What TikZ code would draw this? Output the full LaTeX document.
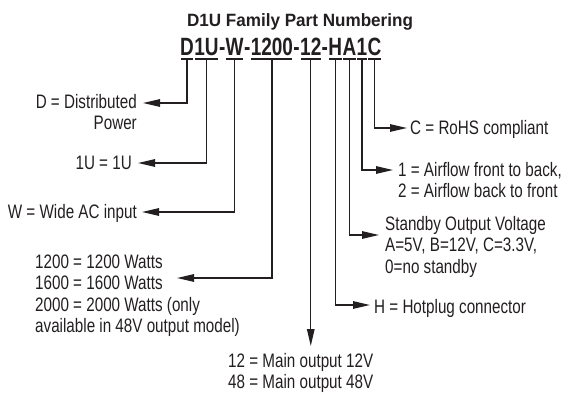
\documentclass[tikz,border=0pt]{standalone}
\usepackage{fontspec}
\setmainfont{Liberation Sans}[FakeStretch=0.78]
\newfontfamily\pnfont{Liberation Sans}[FakeStretch=0.76]
\newfontfamily\ttlfont{Liberation Sans}[FakeStretch=0.96]
\usetikzlibrary{arrows.meta}
\definecolor{ink}{RGB}{35,31,32}
\begin{document}
\begin{tikzpicture}[x=1pt,y=-1pt,
  lbl/.style={inner sep=0pt,text=ink,font=\fontsize{19.5}{21.5}\selectfont},
  pn/.style={inner sep=0pt,text=ink,font=\pnfont\bfseries\fontsize{25}{28}\selectfont,anchor=base west},
  brk/.style={draw=ink,line width=1.3pt},
  conn/.style={draw=ink,line width=1.3pt,line join=miter,-{Triangle[length=17pt,width=7.5pt]}}]
\useasboundingbox (0,0) rectangle (573,402);
% title
\node[inner sep=0pt,text=ink,font=\ttlfont\bfseries\fontsize{17.8}{20}\selectfont,anchor=base] (title) at (300,26) {D1U Family Part Numbering};
% part number
\node[pn] (pD) at (180,55) {D};
\node[pn] (p1U) at (pD.base east) {1U};
\node[pn] (d1) at (p1U.base east) {-};
\node[pn] (pW) at (d1.base east) {W};
\node[pn] (d2) at (pW.base east) {-};
\node[pn] (p1200) at (d2.base east) {1200};
\node[pn] (d3) at (p1200.base east) {-};
\node[pn] (p12) at (d3.base east) {12};
\node[pn] (d4) at (p12.base east) {-};
\node[pn] (pH) at (d4.base east) {H};
\node[pn] (pA) at (pH.base east) {A};
\node[pn] (p1) at (pA.base east) {1};
\node[pn] (pC) at (p1.base east) {C};
% brackets
\foreach \n in {pD,p1U,pW,p1200,p12,pH,pA,p1,pC}{
  \draw[brk] ([xshift=0.8pt]\n.south west |- 0,59) -- ([xshift=-0.8pt]\n.south east |- 0,59);
}
% labels
\node[lbl,anchor=base east] (lD) at (137,108) {\begin{tabular}[t]{@{}r@{}}D = Distributed\\Power\end{tabular}};
\node[lbl,anchor=base east] (l1U) at (132,169) {1U = 1U};
\node[lbl,anchor=base east] (lW) at (137,218) {W = Wide AC input};
\node[lbl,anchor=base west] (l1200) at (35,268) {\begin{tabular}[t]{@{}l@{}}1200 = 1200 Watts\\1600 = 1600 Watts\\2000 = 2000 Watts (only\\available in 48V output model)\end{tabular}};
\node[lbl,anchor=base west] (l12) at (228,367) {\begin{tabular}[t]{@{}l@{}}12 = Main output 12V\\48 = Main output 48V\end{tabular}};
\node[lbl,anchor=base west] (lH) at (374,313) {H = Hotplug connector};
\node[lbl,anchor=base west] (lA) at (385,230) {\begin{tabular}[t]{@{}l@{}}Standby Output Voltage\\A=5V, B=12V, C=3.3V,\\0=no standby\end{tabular}};
\node[lbl,anchor=base west] (l1) at (398,176) {\begin{tabular}[t]{@{}l@{}}1 = Airflow front to back,\\2 = Airflow back to front\end{tabular}};
\node[lbl,anchor=base west] (lC) at (410,134) {C = RoHS compliant};
% arrow tips
\coordinate (tD) at (143,103);
\coordinate (t1U) at (138,163);
\coordinate (tW) at (142,212);
\coordinate (t1200) at (177,278);
\coordinate (t12) at (308,346);
\coordinate (tH) at (370,305);
\coordinate (tA) at (379,235);
\coordinate (t1) at (393,170);
\coordinate (tC) at (407,128);
% connectors
\draw[conn] (pD.south |- 0,59) |- (tD);
\draw[conn] (p1U.south |- 0,59) |- (t1U);
\draw[conn] (pW.south |- 0,59) |- (tW);
\draw[conn] (p1200.south |- 0,59) |- (t1200);
\draw[conn] (p12.south |- 0,59) -- (p12.south |- t12);
\draw[conn] (pH.south |- 0,59) |- (tH);
\draw[conn] (pA.south |- 0,59) |- (tA);
\draw[conn] (p1.south |- 0,59) |- (t1);
\draw[conn] (pC.south |- 0,59) |- (tC);
\end{tikzpicture}
\end{document}
